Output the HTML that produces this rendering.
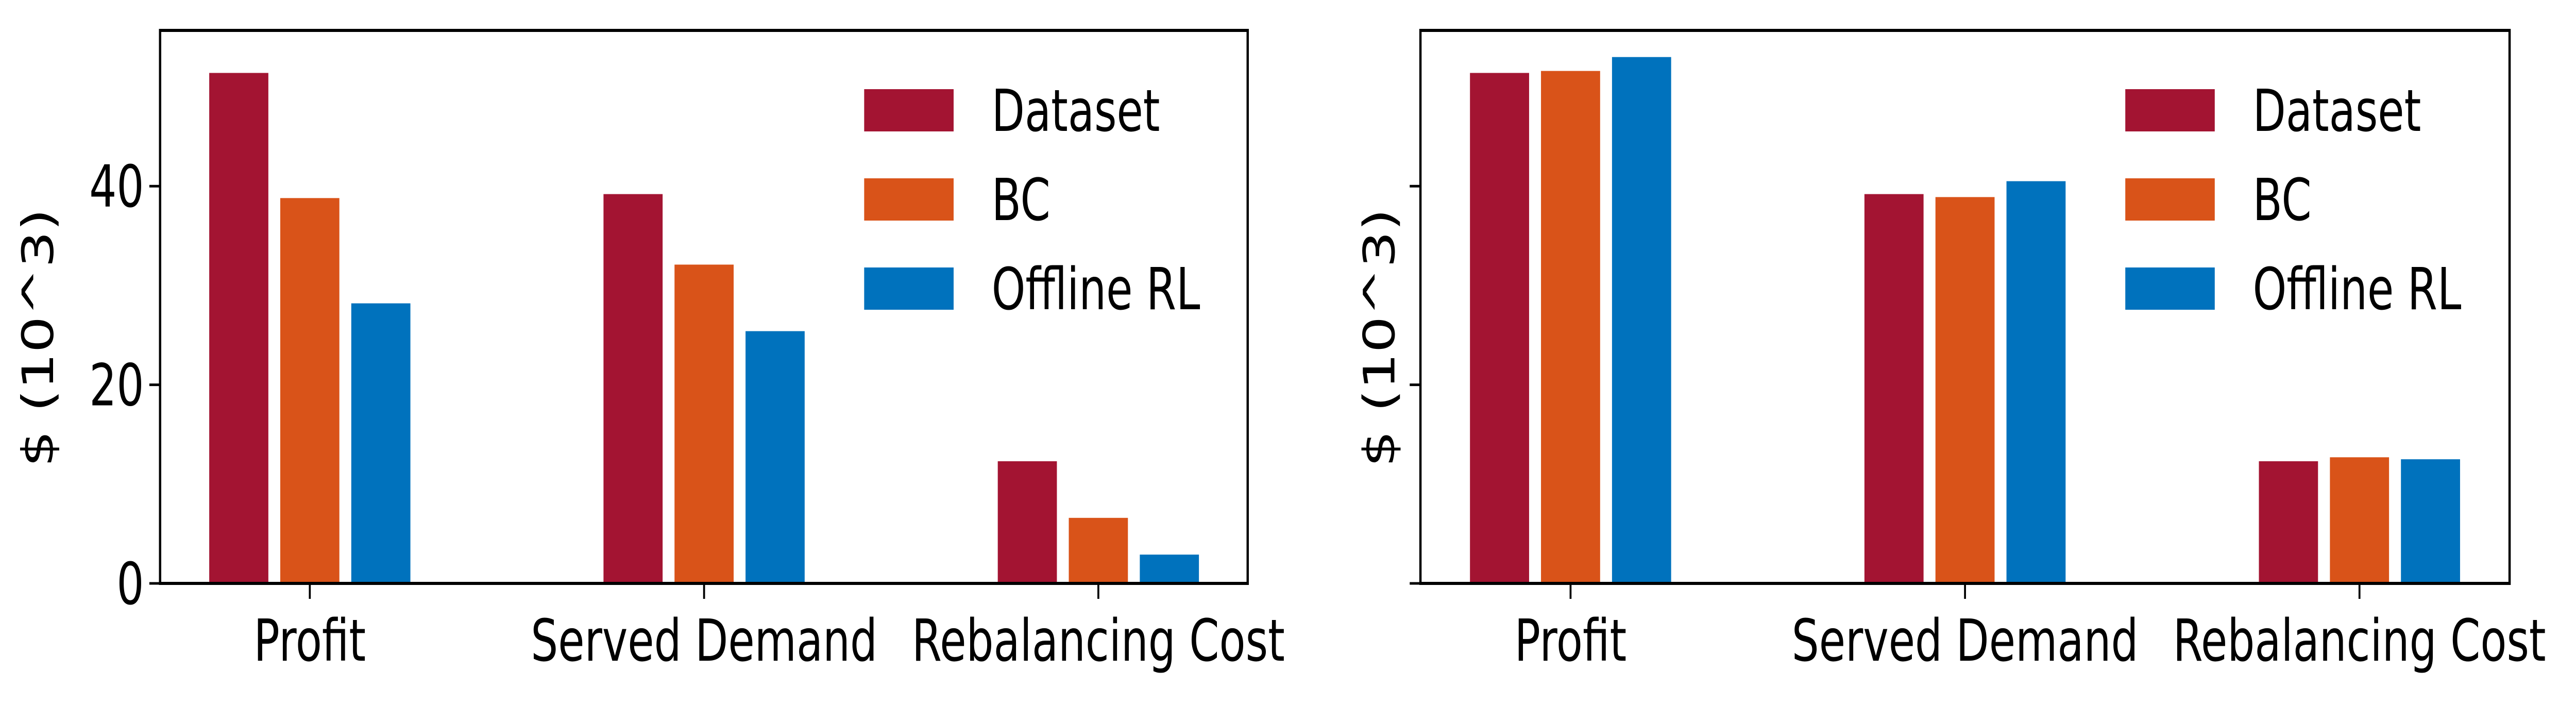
<!DOCTYPE html>
<html><head><meta charset="utf-8"><style>html,body{margin:0;padding:0;background:#fff;overflow:hidden;width:100vw;height:100vh}svg{display:block;width:100vw;height:100vh}</style></head>
<body>
<svg id="chart" viewBox="0 0 6710 1366" preserveAspectRatio="none" xmlns="http://www.w3.org/2000/svg" font-family="DejaVu Sans, Liberation Sans, sans-serif"></svg>
<script>
const categories = ["Profit", "Served Demand", "Rebalancing Cost"];
const seriesNames = ["Dataset", "BC", "Offline RL"];
const leftDataset = [51.4, 39.2, 12.3];
const leftBC = [38.8, 32.1, 6.6];
const leftRL = [28.2, 25.4, 2.9];
const rightDataset = [51.4, 39.2, 12.3];
const rightBC = [51.6, 38.9, 12.7];
const rightRL = [53.0, 40.5, 12.5];
const yTicks = [0, 20, 40];
const yTickLabels = ["0", "20", "40"];
const colors = ["#a31432", "#d95319", "#0072bd"];
const NS = "http://www.w3.org/2000/svg";
const svg = document.getElementById('chart');
function mk(tag, attrs, parent) { const e = document.createElementNS(NS, tag); for (const k in attrs) e.setAttribute(k, attrs[k]); (parent || svg).appendChild(e); return e; }

function panel(p, series, showLabels) {
  const g = mk('g', {});
  
  
  const y0 = 1132, yTop = 59, pxPerUnit = 19.27;
  const y = v => y0 - v * pxPerUnit;
  const x = i => p.c0 + i * p.step;
  const bw = 154, off = 185;
  series.forEach((vals, s) => {
    vals.forEach((v, i) => {
      const r = mk('rect', { x: x(i) + (s - 1) * off - bw / 2, y: y(v), width: bw, height: y0 - y(v), fill: colors[s] }, g);
      
      
    });
  });
  const frame = mk('rect', { x: p.l, y: yTop, width: p.r - p.l, height: y0 - yTop, fill: 'none', stroke: '#000', 'stroke-width': 6 }, g);
  
  
  yTicks.forEach((t, k) => {
    const tk = mk('line', { x1: p.l - 28, x2: p.l, y1: y(t), y2: y(t), stroke: '#000', 'stroke-width': 5 }, g);
    
    
    if (showLabels) {
      const tl = mk('text', { x: p.l - 42, y: y(t) + 40, 'text-anchor': 'end', 'font-size': 112 }, g);
      tl.textContent = yTickLabels[k];
      
      
    }
  });
  categories.forEach((c, i) => {
    const tk = mk('line', { x1: x(i), x2: x(i), y1: y0, y2: y0 + 30, stroke: '#000', 'stroke-width': 5 }, g);
    
    
    const tl = mk('text', { x: x(i), y: y0 + 150, 'text-anchor': 'middle', 'font-size': 112 }, g);
    tl.textContent = c;
    
    
  });
  const yl = mk('text', { x: 0, y: 0, 'text-anchor': 'middle', 'font-size': 112, transform: 'translate(' + p.ylx + ',' + ((y0 + yTop) / 2 + 60) + ') rotate(-90)' }, g);
  yl.textContent = '$ (10^3)';
  
  
  seriesNames.forEach((n, s) => {
    const cy = 214 + s * 173;
    const lr = mk('rect', { x: p.lx, y: cy - 41, width: 233, height: 82, fill: colors[s] }, g);
    
    
    const lt = mk('text', { x: p.lx + 332, y: cy + 40, 'font-size': 112 }, g);
    lt.textContent = n;
    
    
  });
}
panel({ name: 'left-panel', l: 417, r: 3250, c0: 807, step: 1027, ylx: 138, lx: 2251 }, [leftDataset, leftBC, leftRL], true);
panel({ name: 'right-panel', l: 3700, r: 6537, c0: 4091, step: 1027.5, ylx: 3632, lx: 5536 }, [rightDataset, rightBC, rightRL], false);
</script>
</body></html>
